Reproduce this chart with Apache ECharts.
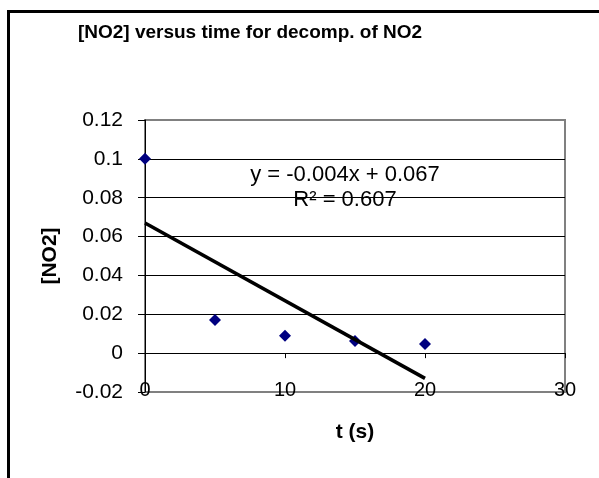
<!DOCTYPE html>
<html>
<head>
<meta charset="utf-8">
<script src="https://cdn.jsdelivr.net/npm/echarts@6/dist/echarts.min.js"></script>
<style>
  html, body { margin: 0; padding: 0; background: #fff; }
  #main { width: 599px; height: 478px; }
</style>
</head>
<body>
<div id="main"></div>
<script>
// data
const timeS = [0, 5, 10, 15, 20];
const no2Conc = [0.1, 0.017, 0.009, 0.0063, 0.0047];
// linear trendline ends (Excel draws it over the data range)
const trendT = [0, 20];
const trendY = [0.067, -0.013];
const titleText = "[NO2] versus time for decomp. of NO2";
const equationText = "y = -0.004x + 0.067";
const r2Text = "R\u00b2 = 0.607";

const font = "'Liberation Sans', Arial, sans-serif";

var chartDom = document.getElementById("main");
var myChart = echarts.init(chartDom, null, { renderer: "canvas" });

const option = {
  animation: false,
  backgroundColor: "#fff",
  grid: {
    left: 145,
    top: 120,
    right: 34,
    bottom: 86,
    show: true,
    borderColor: "#808080",
    borderWidth: 2,
    backgroundColor: "#fff"
  },
  xAxis: [
    {
      // bottom axis: only the labels and the title
      type: "value",
      position: "bottom",
      min: 0,
      max: 30,
      interval: 10,
      name: "t (s)",
      nameLocation: "middle",
      nameGap: 40,
      nameTextStyle: {
        fontFamily: font, fontSize: 21, fontWeight: "bold", color: "#000",
        verticalAlign: "middle"
      },
      axisLine: { show: false, onZero: false },
      axisTick: { show: false },
      axisLabel: {
        fontFamily: font, fontSize: 20, color: "#000",
        verticalAlign: "middle", margin: -2
      },
      splitLine: { show: false }
    },
    {
      // the real axis line sits on y = 0
      type: "value",
      position: "top",
      min: 0,
      max: 30,
      interval: 10,
      axisLine: { show: true, onZero: true, lineStyle: { color: "#000", width: 1 } },
      axisTick: { show: true, inside: true, length: 5, lineStyle: { color: "#000", width: 1 } },
      axisLabel: { show: false },
      splitLine: { show: false }
    }
  ],
  yAxis: {
    type: "value",
    min: -0.02,
    max: 0.12,
    interval: 0.02,
    name: "[NO2]",
    nameLocation: "middle",
    nameRotate: 90,
    nameGap: 95,
    nameTextStyle: {
      fontFamily: font, fontSize: 21, fontWeight: "bold", color: "#000",
      align: "center", verticalAlign: "middle"
    },
    axisLine: { show: true, onZero: false, lineStyle: { color: "#000", width: 1 } },
    axisTick: { show: true, length: 7, lineStyle: { color: "#000", width: 1 } },
    axisLabel: {
      fontFamily: font, fontSize: 21, color: "#000", margin: 22,
      formatter: function (v) { return String(+v.toFixed(4)); }
    },
    splitLine: {
      show: true,
      showMinLine: false,
      showMaxLine: false,
      lineStyle: { color: "#000", width: 1 }
    }
  },
  series: [
    {
      name: "NO2",
      type: "scatter",
      xAxisIndex: 0,
      symbol: "diamond",
      symbolSize: 12,
      itemStyle: { color: "#000080", opacity: 1 },
      emphasis: { disabled: true },
      data: timeS.map((t, i) => [t, no2Conc[i]]),
      z: 3
    },
    {
      name: "Linear (NO2)",
      type: "line",
      xAxisIndex: 0,
      showSymbol: false,
      symbol: "none",
      lineStyle: { color: "#000", width: 3.6 },
      emphasis: { disabled: true },
      data: trendT.map((t, i) => [t, trendY[i]]),
      z: 4
    }
  ],
  graphic: [
    {
      type: "rect",
      shape: { x: 8.5, y: 11.5, width: 800, height: 800 },
      style: { fill: "none", stroke: "#000", lineWidth: 3 },
      z: 100
    },
    {
      type: "text",
      x: 250, y: 33,
      style: {
        text: titleText, fontFamily: font, fontSize: 19, fontWeight: "bold",
        fill: "#000", align: "center", verticalAlign: "middle"
      },
      z: 100
    },
    {
      type: "text",
      x: 345, y: 175,
      style: {
        text: equationText, fontFamily: font, fontSize: 22,
        fill: "#000", align: "center", verticalAlign: "middle"
      },
      z: 100
    },
    {
      type: "text",
      x: 345, y: 200,
      style: {
        text: r2Text, fontFamily: font, fontSize: 22,
        fill: "#000", align: "center", verticalAlign: "middle"
      },
      z: 100
    }
  ]
};

myChart.setOption(option);
</script>
</body>
</html>
